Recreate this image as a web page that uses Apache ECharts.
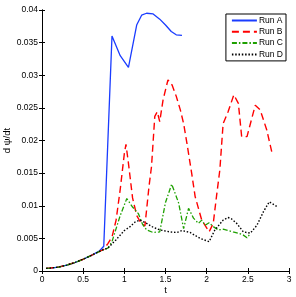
<!DOCTYPE html>
<html><head><meta charset="utf-8">
<script src="https://cdn.jsdelivr.net/npm/echarts@6/dist/echarts.min.js"></script>
<style>html,body{margin:0;padding:0;background:#fff}#c{width:296px;height:297px}</style>
</head><body><div id="c"></div>
<script>
var xTicks = [0, 0.5, 1, 1.5, 2, 2.5, 3];
var yTicks = [0, 0.005, 0.01, 0.015, 0.02, 0.025, 0.03, 0.035, 0.04];
var seriesNames = ['Run A', 'Run B', 'Run C', 'Run D'];

var tA = [0.05,0.1,0.2,0.3,0.4,0.5,0.6,0.7,0.75,0.85,0.95,1.05,1.15,1.21,1.27,1.35,1.43,1.5,1.57,1.63,1.7];
var vA = [0.0004,0.00045,0.0006,0.0009,0.0013,0.0018,0.0024,0.0031,0.0038,0.036,0.033,0.0312,0.0377,0.0392,0.0395,0.0394,0.0386,0.0377,0.0367,0.0362,0.0361];

var tB = [0.05,0.1,0.2,0.3,0.4,0.5,0.6,0.7,0.75,0.8,0.85,0.9,0.95,1.0,1.02,1.05,1.1,1.15,1.2,1.25,1.3,1.33,1.37,1.4,1.43,1.47,1.53,1.58,1.63,1.68,1.72,1.76,1.82,1.86,1.94,2.03,2.08,2.12,2.16,2.2,2.26,2.33,2.385,2.425,2.49,2.59,2.65,2.73,2.79];
var vB = [0.0004,0.00045,0.0006,0.0009,0.0013,0.0018,0.0024,0.003,0.0033,0.0042,0.0052,0.0078,0.0125,0.018,0.0194,0.0165,0.0112,0.0085,0.0074,0.0069,0.013,0.016,0.0237,0.0244,0.0229,0.0262,0.0293,0.0285,0.0268,0.0247,0.0226,0.0196,0.0148,0.0114,0.0078,0.006,0.0073,0.0115,0.0155,0.0226,0.0244,0.027,0.0257,0.0206,0.0206,0.0254,0.0247,0.0216,0.0183];

var tC = [0.05,0.1,0.2,0.3,0.4,0.5,0.6,0.7,0.75,0.8,0.85,0.9,0.95,1.03,1.1,1.17,1.22,1.27,1.35,1.43,1.5,1.575,1.62,1.66,1.72,1.78,1.84,1.9,1.94,1.98,2.03,2.08,2.14,2.2,2.26,2.32,2.385,2.445,2.49,2.53];
var vC = [0.0004,0.00045,0.0006,0.0009,0.0013,0.0018,0.0024,0.003,0.0033,0.0035,0.0045,0.0065,0.0085,0.0111,0.0098,0.0088,0.0072,0.0063,0.0059,0.006,0.0105,0.0133,0.0118,0.0104,0.0065,0.0096,0.0081,0.0073,0.0078,0.007,0.0074,0.0068,0.0063,0.0064,0.0062,0.006,0.0058,0.0055,0.0051,0.0057];

var tD = [0.05,0.1,0.2,0.3,0.4,0.5,0.6,0.7,0.75,0.8,0.9,1.0,1.07,1.13,1.19,1.27,1.35,1.43,1.55,1.64,1.7,1.8,1.92,2.03,2.1,2.2,2.26,2.3,2.365,2.445,2.53,2.61,2.69,2.76,2.85];
var vD = [0.0004,0.00045,0.0006,0.0009,0.0013,0.0018,0.0024,0.003,0.0033,0.0035,0.0048,0.0062,0.0068,0.0075,0.0078,0.0073,0.0067,0.0063,0.006,0.0059,0.0062,0.0059,0.005,0.0045,0.0063,0.0078,0.0082,0.008,0.0073,0.006,0.0058,0.007,0.0091,0.0106,0.0099];

function pairs(t, v) { return t.map(function (x, i) { return [x, v[i]]; }); }

var FONT = 'Liberation Sans';
var chart = echarts.init(document.getElementById('c'), null, {renderer: 'canvas'});
var axisCommon = {
  min: 0,
  axisLine: {show: true, lineStyle: {color: '#000', width: 1}},
  axisTick: {show: true, inside: true, length: 3, lineStyle: {color: '#000'}},
  splitLine: {show: false}
};
chart.setOption({
  animation: false,
  backgroundColor: '#fff',
  grid: {left: 42, right: 7, top: 10, bottom: 26, containLabel: false, outerBoundsMode: 'none'},
  xAxis: [
    Object.assign({}, axisCommon, {type: 'value', max: xTicks[xTicks.length-1], interval: 0.5, position: 'bottom',
      name: 't', nameLocation: 'middle', nameGap: 14, nameMoveOverlap: false, nameTextStyle: {fontFamily: FONT, fontSize: 9.5, color: '#000'},
      axisLabel: {fontFamily: FONT, fontSize: 8.5, color: '#000', margin: 4, formatter: function (v) { return String(v); }}}),
    Object.assign({}, axisCommon, {type: 'value', max: xTicks[xTicks.length-1], interval: 0.5, position: 'top', axisLabel: {show: false}})
  ],
  yAxis: [
    Object.assign({}, axisCommon, {type: 'value', max: yTicks[yTicks.length-1], interval: 0.005, position: 'left',
      name: 'd ψ/dt', nameLocation: 'middle', nameGap: 30, nameMoveOverlap: false, nameTextStyle: {fontFamily: FONT, fontSize: 9.5, color: '#000'},
      axisLabel: {fontFamily: FONT, fontSize: 8.5, color: '#000', margin: 4, formatter: function (v) { return String(+v.toFixed(3)); }}}),
    Object.assign({}, axisCommon, {type: 'value', max: yTicks[yTicks.length-1], interval: 0.005, position: 'right', axisLabel: {show: false}})
  ],
  legend: {
    data: seriesNames,
    orient: 'vertical', right: 10, top: 14,
    backgroundColor: '#fff', borderColor: '#000', borderWidth: 1, borderRadius: 0,
    padding: [2, 3, 2, 5], itemWidth: 25, itemHeight: 8, itemGap: 2.3,
    itemStyle: {opacity: 0},
    textStyle: {fontFamily: FONT, fontSize: 8.5, color: '#000', padding: [0, 0, 0, -3]}
  },
  series: [
    {name: seriesNames[0], type: 'line', symbol: 'none', data: pairs(tA, vA), lineStyle: {color: '#1a3cff', width: 1.3}, itemStyle: {color: '#1a3cff'}},
    {name: seriesNames[1], type: 'line', symbol: 'none', data: pairs(tB, vB), lineStyle: {color: '#ff0000', width: 1.4, type: [7, 4]}, itemStyle: {color: '#ff0000'}},
    {name: seriesNames[2], type: 'line', symbol: 'none', data: pairs(tC, vC), lineStyle: {color: '#1ea000', width: 1.3, type: [5, 2, 1.5, 2]}, itemStyle: {color: '#1ea000'}},
    {name: seriesNames[3], type: 'line', symbol: 'none', data: pairs(tD, vD), lineStyle: {color: '#000', width: 1.4, type: [1.5, 1.8]}, itemStyle: {color: '#000'}}
  ]
});
</script></body></html>
